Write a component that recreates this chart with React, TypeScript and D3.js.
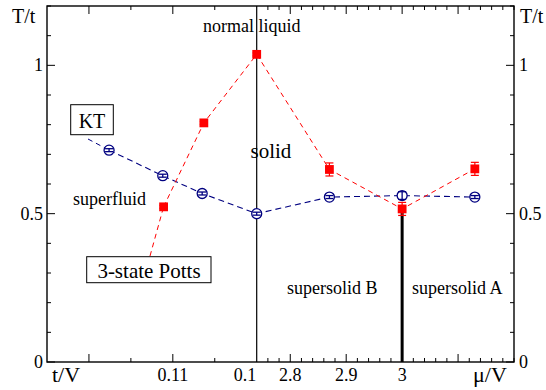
import React from 'react'
import * as d3 from 'd3'

// KT line (blue open circles)
const ktTV = [0.1176, 0.1112, 0.1065, 0.1]
const ktTVTemp = [0.714, 0.628, 0.568, 0.5]
const ktTVErr = [0.005, 0.005, 0.005, 0.005]
const ktMu = [2.87, 3.0, 3.13]
const ktMuTemp = [0.556, 0.561, 0.556]
const ktMuErr = [0.005, 0.013, 0.005]

// 3-state Potts line (red squares)
const pottsTV = [0.1111, 0.1063, 0.1]
const pottsTVTemp = [0.523, 0.806, 1.037]
const pottsTVErr = [0.005, 0.005, 0.005]
const pottsMu = [2.87, 3.0, 3.13]
const pottsMuTemp = [0.649, 0.516, 0.651]
const pottsMuErr = [0.022, 0.022, 0.022]

const tvTicks = [0.12, 0.115, 0.11, 0.105]
const tvLabels = [{ v: 0.11, t: '0.11' }]
const muMajor = [2.8, 2.9, 3.0, 3.1]
const muLabels = [{ v: 2.8, t: '2.8' }, { v: 2.9, t: '2.9' }, { v: 3.0, t: '3' }]
const yLabels = [{ v: 0, t: '0' }, { v: 0.5, t: '0.5' }, { v: 1, t: '1' }]

const W = 546, H = 390
const left = 47, right = 514, top = 6, bottom = 362
const split = 256.7
const font = "'Liberation Serif', 'Times New Roman', serif"

const App = () => {
  const xT = d3.scaleLinear().domain([0.125, 0.1]).range([left, split])
  const xM = d3.scaleLinear().domain([2.74, 3.2]).range([split, right])
  const y = d3.scaleLinear().domain([0, 1.2]).range([bottom, top])

  const ktPts = [
    ...ktTV.map((v, i) => ({ x: xT(v), t: ktTVTemp[i], e: ktTVErr[i] })),
    ...ktMu.map((v, i) => ({ x: xM(v), t: ktMuTemp[i], e: ktMuErr[i] })),
  ]
  const pottsPts = [
    ...pottsTV.map((v, i) => ({ x: xT(v), t: pottsTVTemp[i], e: pottsTVErr[i] })),
    ...pottsMu.map((v, i) => ({ x: xM(v), t: pottsMuTemp[i], e: pottsMuErr[i] })),
  ]

  const line = d3.line<{ x: number; t: number }>().x(d => d.x).y(d => y(d.t))

  const yMinor = d3.range(0, 1.21, 0.1)
  const muMinor = d3.range(2.76, 3.2, 0.02)

  const blue = '#000080'
  const red = '#ff0000'

  return (
    <svg width={W} height={H} style={{ position: 'absolute', left: 0, top: 0, background: '#fff' }}>
      {/* ticks */}
      <g stroke="#000" strokeWidth={1}>
        {yMinor.map((v, i) => {
          const major = Math.abs(v * 2 - Math.round(v * 2)) < 1e-6
          const len = major ? 8 : 4
          return (
            <g key={i}>
              <line x1={left} x2={left + len} y1={y(v)} y2={y(v)} />
              <line x1={right} x2={right - len} y1={y(v)} y2={y(v)} />
            </g>
          )
        })}
        {tvTicks.map((v, i) => {
          const len = i % 2 === 0 ? 8 : 4
          return (
            <g key={i}>
              <line x1={xT(v)} x2={xT(v)} y1={bottom} y2={bottom - len} />
              <line x1={xT(v)} x2={xT(v)} y1={top} y2={top + len} />
            </g>
          )
        })}
        {muMinor.map((v, i) => {
          const major = muMajor.some(m => Math.abs(m - v) < 1e-6)
          const len = major ? 8 : 4
          return (
            <g key={i}>
              <line x1={xM(v)} x2={xM(v)} y1={bottom} y2={bottom - len} />
              <line x1={xM(v)} x2={xM(v)} y1={top} y2={top + len} />
            </g>
          )
        })}
      </g>

      {/* phase boundaries */}
      <line x1={split} x2={split} y1={y(0)} y2={y(1.2)} stroke="#000" strokeWidth={1.2} />
      <line x1={xM(3.0)} x2={xM(3.0)} y1={y(0)} y2={y(pottsMuTemp[1])} stroke="#000" strokeWidth={3} />

      {/* pointer lines from labels */}
      <line x1={88} y1={139} x2={ktPts[0].x} y2={y(ktPts[0].t)} stroke={blue} strokeWidth={1} strokeDasharray="5,4" />
      <line x1={150} y1={256} x2={pottsPts[0].x} y2={y(pottsPts[0].t)} stroke={red} strokeWidth={1} strokeDasharray="5,4" />

      {/* KT series */}
      <path d={line(ktPts) || ''} fill="none" stroke={blue} strokeWidth={1.1} strokeDasharray="6,4" />
      {/* Potts series */}
      <path d={line(pottsPts) || ''} fill="none" stroke={red} strokeWidth={1} strokeDasharray="5,4" />

      {ktPts.map((p, i) => (
        <g key={i} stroke={blue} strokeWidth={1.3} fill="none">
          <circle cx={p.x} cy={y(p.t)} r={5} fill="#fff" />
          <line x1={p.x - 4} x2={p.x + 4} y1={y(p.t + p.e)} y2={y(p.t + p.e)} />
          <line x1={p.x - 4} x2={p.x + 4} y1={y(p.t - p.e)} y2={y(p.t - p.e)} />
          <line x1={p.x} x2={p.x} y1={y(p.t + p.e)} y2={y(p.t - p.e)} />
        </g>
      ))}
      {pottsPts.map((p, i) => (
        <g key={i}>
          <g stroke={red} strokeWidth={1.2}>
            <line x1={p.x} x2={p.x} y1={y(p.t + p.e)} y2={y(p.t - p.e)} />
            <line x1={p.x - 4} x2={p.x + 4} y1={y(p.t + p.e)} y2={y(p.t + p.e)} />
            <line x1={p.x - 4} x2={p.x + 4} y1={y(p.t - p.e)} y2={y(p.t - p.e)} />
          </g>
          <rect x={p.x - 4.4} y={y(p.t) - 4.4} width={8.8} height={8.8} fill={red} />
        </g>
      ))}

      {/* frame */}
      <rect x={left} y={top} width={right - left} height={bottom - top} fill="none" stroke="#000" strokeWidth={1.4} />

      <g style={{ fontFamily: font }} fill="#000">
        {/* axis labels */}
        <g fontSize={18}>
          {yLabels.map(d => (
            <g key={d.t}>
              <text x={43} y={y(d.v) + 6} textAnchor="end">{d.t}</text>
              <text x={519} y={y(d.v) + 6}>{d.t}</text>
            </g>
          ))}
          {tvLabels.map(d => (
            <text key={d.t} x={xT(d.v)} y={381} textAnchor="middle">{d.t}</text>
          ))}
          <text x={split - 0.5} y={381} textAnchor="end">0.1</text>
          {muLabels.map(d => (
            <text key={d.t} x={xM(d.v)} y={381} textAnchor="middle">{d.t}</text>
          ))}
        </g>
        <text x={12} y={23} fontSize={20}>T/t</text>
        <text x={520} y={23} fontSize={20}>T/t</text>
        <text x={52} y={382} fontSize={22}>t/V</text>
        <text x={473} y={382} fontSize={22}>μ/V</text>

        {/* region labels */}
        <g fontSize={18}>
          <text x={203} y={32}>normal liquid</text>
          <text x={73} y={205}>superfluid</text>
          <text x={287} y={294}>supersolid B</text>
          <text x={412} y={294}>supersolid A</text>
        </g>
        <text x={250.5} y={158} fontSize={21}>solid</text>

        <rect x={70.7} y={104.7} width={42.6} height={30} fill="#fff" stroke="#000" strokeWidth={1} />
        <text x={92} y={128} fontSize={20} textAnchor="middle">KT</text>
        <rect x={86.7} y={256.7} width={124.3} height={26} fill="#fff" stroke="#000" strokeWidth={1} />
        <text x={149} y={277.5} fontSize={21} textAnchor="middle">3-state Potts</text>
      </g>
    </svg>
  )
}

export default App
